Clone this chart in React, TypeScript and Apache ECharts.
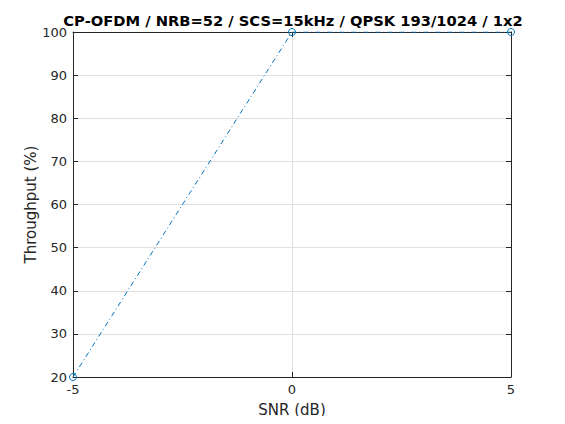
import React, { useEffect, useRef } from "react";
import * as echarts from "echarts";

const snr = [-5, 0, 5];
const throughput = [20, 100, 100];
const titleText = "CP-OFDM / NRB=52 / SCS=15kHz / QPSK 193/1024 / 1x2";
const xLabel = "SNR (dB)";
const yLabel = "Throughput (%)";

const FONT = "DejaVu Sans";
const AX = "#262626";

export default function App() {
  const ref = useRef<HTMLDivElement>(null);
  useEffect(() => {
    const chart = echarts.init(ref.current!, null, { renderer: "svg" });
    const axisCommon = {
      axisLine: { show: true, onZero: false, lineStyle: { color: AX, width: 1 } },
      axisTick: { show: true, inside: true, length: 5, lineStyle: { color: AX, width: 1 } },
    };
    chart.setOption({
      animation: false,
      backgroundColor: "#ffffff",
      title: {
        text: titleText,
        left: 288,
        textAlign: "center",
        top: 8,
        textStyle: { fontFamily: FONT, fontSize: 14.7, fontWeight: "bold", color: "#000" },
      },
      grid: { left: 73, right: 54, top: 32, bottom: 47, show: false },
      xAxis: [
        {
          type: "value",
          min: -5,
          max: 5,
          interval: 5,
          position: "bottom",
          ...axisCommon,
          axisLabel: { fontFamily: FONT, fontSize: 13, color: AX, margin: 6 },
          splitLine: { show: true, lineStyle: { color: "#dfdfdf", width: 1 } },
          name: xLabel,
          nameLocation: "middle",
          nameGap: 25,
          nameMoveOverlap: false,
          nameTextStyle: { fontFamily: FONT, fontSize: 15, color: AX },
        },
        {
          type: "value",
          min: -5,
          max: 5,
          interval: 5,
          position: "top",
          ...axisCommon,
          axisLabel: { show: false },
          splitLine: { show: false },
        },
      ],
      yAxis: [
        {
          type: "value",
          min: 20,
          max: 100,
          interval: 10,
          position: "left",
          ...axisCommon,
          axisLabel: { fontFamily: FONT, fontSize: 13, color: AX, margin: 6 },
          splitLine: { show: true, lineStyle: { color: "#dfdfdf", width: 1 } },
          name: yLabel,
          nameLocation: "middle",
          nameGap: 35,
          nameMoveOverlap: false,
          nameTextStyle: { fontFamily: FONT, fontSize: 15, color: AX },
        },
        {
          type: "value",
          min: 20,
          max: 100,
          interval: 10,
          position: "right",
          ...axisCommon,
          axisLabel: { show: false },
          splitLine: { show: false },
        },
      ],
      series: [
        {
          type: "line",
          data: snr.map((x, i) => [x, throughput[i]]),
          symbol: "circle",
          symbolSize: 7,
          showSymbol: true,
          itemStyle: { color: "rgba(255,255,255,0)", borderColor: "#0072BD", borderWidth: 1 },
          lineStyle: { color: "#0072BD", width: 1, type: [5, 3, 1, 3] },
          z: 5,
        },
      ],
    });
    return () => chart.dispose();
  }, []);
  return <div ref={ref} style={{ width: 565, height: 424, margin: -8 }} />;
}
